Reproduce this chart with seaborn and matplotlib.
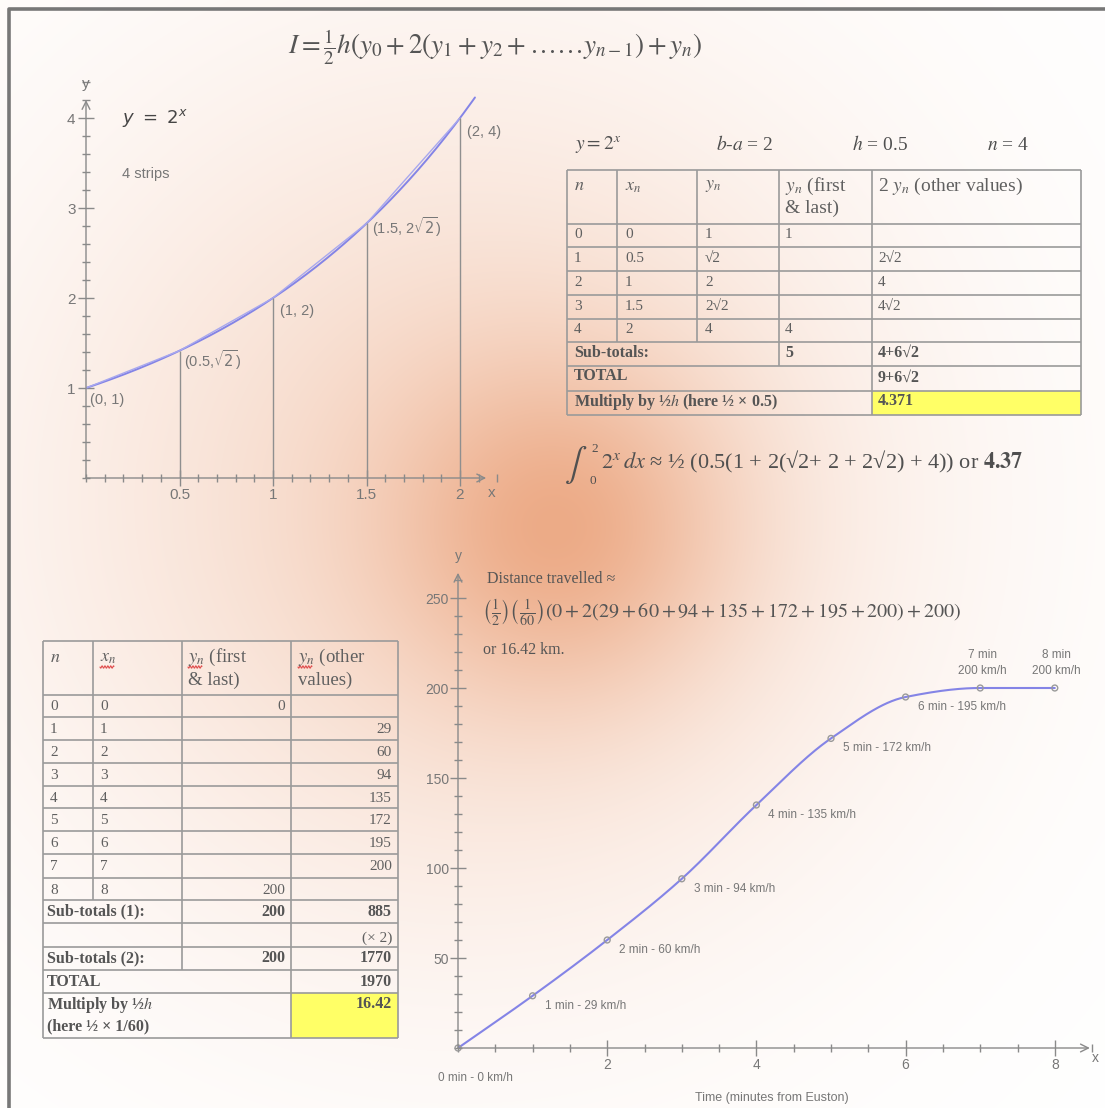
import numpy as np
import matplotlib
matplotlib.use("Agg")
import matplotlib.pyplot as plt
from matplotlib.ticker import MultipleLocator, FixedLocator
import seaborn as sns

# ---------------- data ----------------
# y = 2^x sampled at the strip edges
strip_x = [0, 0.5, 1, 1.5, 2]
strip_y = [1, 2 ** 0.5, 2, 2 * 2 ** 0.5, 4]
strip_labels = ["(0, 1)", r"(0.5,$\sqrt{2}$)", "(1, 2)", r"(1.5, 2$\sqrt{2}$)", "(2, 4)"]

# train speed after leaving Euston
minutes = [0, 1, 2, 3, 4, 5, 6, 7, 8]
speed_kmh = [0, 29, 60, 94, 135, 172, 195, 200, 200]

# worked table for y = 2^x
tab1_n = ["0", "1", "2", "3", "4"]
tab1_x = ["0", "0.5", "1", "1.5", "2"]
tab1_y = ["1", "√2", "2", "2√2", "4"]
tab1_first_last = ["1", "", "", "", "4"]
tab1_other = ["", "2√2", "4", "4√2", ""]
tab1_sub_fl = "5"
tab1_sub_other = "4+6√2"
tab1_total = "9+6√2"
tab1_result = "4.371"

W, H = 1105, 1108
sns.set_theme(style="white")
plt.rcParams["mathtext.fontset"] = "stix"
plt.rcParams["font.family"] = ["Liberation Sans", "DejaVu Sans"]

AX_COL = "#8a8a8a"
LBL_COL = "#777777"
CURVE = "#8484e6"
SERIF = ["Liberation Serif", "DejaVu Serif"]
TXT = "#606060"

fig = plt.figure(figsize=(W / 100, H / 100), dpi=100)

# ---------------- background glow and frame ----------------
bg = fig.add_axes([0, 0, 1, 1], zorder=0)
yy, xx = np.mgrid[0:H, 0:W]
glow = 0.46 * np.exp(-((xx - 565) ** 2 + (yy - 530) ** 2) / (2 * 120 ** 2))
glow += 0.36 * np.exp(-((xx - 460) ** 2 + (yy - 500) ** 2) / (2 * 300 ** 2))
glow = np.clip(glow, 0, 1)[..., None]
peach = np.array([232, 150, 105]) / 255.0
img = 1 - glow * (1 - peach)
bg.imshow(img, extent=(0, W, H, 0), aspect="auto", interpolation="bilinear")
bg.plot([9, 9, W], [H, 9, 9], color="#777777", lw=2.6, solid_capstyle="butt")
bg.set_xlim(0, W)
bg.set_ylim(H, 0)
bg.axis("off")


def style_axes(ax, xmax_arrow, ymax_arrow, major_len, minor_len):
    ax.set_facecolor("none")
    for s in ax.spines.values():
        s.set_visible(False)
    ax.tick_params(which="both", direction="inout", color=AX_COL, width=1,
                   left=True, bottom=True, labelcolor=LBL_COL, labelsize=10.5)
    ax.tick_params(which="major", length=major_len, pad=2)
    ax.tick_params(which="minor", length=minor_len)
    ax.annotate("", xy=(xmax_arrow, 0), xytext=(0, 0),
                arrowprops=dict(arrowstyle="->", color=AX_COL, lw=1, mutation_scale=14,
                                shrinkA=0, shrinkB=0))
    ax.annotate("", xy=(0, ymax_arrow), xytext=(0, 0),
                arrowprops=dict(arrowstyle="->", color=AX_COL, lw=1, mutation_scale=14,
                                shrinkA=0, shrinkB=0))
    ax.set_xlabel("")
    ax.set_ylabel("")


# ---------------- top chart: y = 2^x with 4 strips ----------------
ux, uy = 187.0, 90.0
ax1 = fig.add_axes([86 / W, 1 - 478 / H, 2.2 * ux / W, 4.4 * uy / H], zorder=1)
xs = np.linspace(0, 2.08, 300)
sns.lineplot(x=xs, y=2 ** xs, ax=ax1, color=CURVE, lw=1.4, sort=False, estimator=None)
sns.lineplot(x=strip_x, y=strip_y, ax=ax1, color="#a8a8ee", lw=1.0, sort=False, estimator=None)
ax1.vlines(strip_x[1:], 0, strip_y[1:], color="#8f8f8f", lw=1)
ax1.set_xlim(0, 2.2)
ax1.set_ylim(0, 4.4)
ax1.xaxis.set_major_locator(FixedLocator([0.5, 1, 1.5, 2]))
ax1.xaxis.set_minor_locator(MultipleLocator(0.1))
ax1.yaxis.set_major_locator(FixedLocator([1, 2, 3, 4]))
ax1.yaxis.set_minor_locator(MultipleLocator(0.2))
ax1.set_xticklabels(["0.5", "1", "1.5", "2"])
ax1.set_yticklabels(["1", "2", "3", "4"])
style_axes(ax1, 2.14, 4.2, 11, 6)
ax1.tick_params(labelsize=11)
offs = [(4, -12), (4, -9), (7, -13), (6, -4), (7, -14)]
for xv, yv, lab, (dx, dy) in zip(strip_x, strip_y, strip_labels, offs):
    ax1.annotate(lab, (xv, yv), xytext=(dx, dy), textcoords="offset pixels",
                 ha="left", va="center", fontsize=10.5, color=LBL_COL,
                 math_fontfamily="dejavusans")
ax1.annotate("x", (2.2, 0), xytext=(-6, -15), textcoords="offset pixels",
             ha="center", va="center", fontsize=11, color=LBL_COL, annotation_clip=False)
ax1.annotate("y", (0, 4.4), xytext=(0, -2), textcoords="offset pixels",
             ha="center", va="center", fontsize=11, color=LBL_COL, annotation_clip=False)

# ---------------- bottom chart: speed against time ----------------
def monotone_cubic(x, y, xs):
    x = np.asarray(x, float)
    y = np.asarray(y, float)
    h = np.diff(x)
    d = np.diff(y) / h
    m = np.zeros_like(y)
    m[0], m[-1] = d[0], d[-1]
    for k in range(1, len(x) - 1):
        if d[k - 1] * d[k] > 0:
            w1, w2 = 2 * h[k] + h[k - 1], h[k] + 2 * h[k - 1]
            m[k] = (w1 + w2) / (w1 / d[k - 1] + w2 / d[k])
    idx = np.clip(np.searchsorted(x, xs) - 1, 0, len(x) - 2)
    t = (xs - x[idx]) / h[idx]
    h00 = 2 * t ** 3 - 3 * t ** 2 + 1
    h10 = t ** 3 - 2 * t ** 2 + t
    h01 = -2 * t ** 3 + 3 * t ** 2
    h11 = t ** 3 - t ** 2
    return h00 * y[idx] + h10 * h[idx] * m[idx] + h01 * y[idx + 1] + h11 * h[idx] * m[idx + 1]


vx, vy = 74.6, 1.8
ax2 = fig.add_axes([458 / W, 1 - 1048 / H, 8.6 * vx / W, 268 * vy / H], zorder=1)
ts = np.linspace(minutes[0], minutes[-1], 400)
sns.lineplot(x=ts, y=monotone_cubic(minutes, speed_kmh, ts), ax=ax2, color=CURVE, lw=1.5,
             sort=False, estimator=None)
sns.scatterplot(x=minutes, y=speed_kmh, ax=ax2, s=18, facecolor="none",
                edgecolor="#9a9a9a", linewidth=1, zorder=3, clip_on=False)
ax2.set_xlim(0, 8.6)
ax2.set_ylim(0, 268)
ax2.xaxis.set_major_locator(FixedLocator([2, 4, 6, 8]))
ax2.xaxis.set_minor_locator(MultipleLocator(0.5))
ax2.yaxis.set_major_locator(FixedLocator([50, 100, 150, 200, 250]))
ax2.yaxis.set_minor_locator(MultipleLocator(10))
ax2.set_xticklabels(["2", "4", "6", "8"])
ax2.set_yticklabels(["50", "100", "150", "200", "250"])
style_axes(ax2, 8.47, 264, 11, 6)
ax2.tick_params(axis="x", which="major", pad=2)
ax2.tick_params(axis="y", which="major", pad=1)
ax2.tick_params(labelsize=10)
for m, v in zip(minutes, speed_kmh):
    if m == 0:
        ax2.annotate(f"{m} min - {v} km/h", (m, v), xytext=(17, -30), textcoords="offset pixels",
                     ha="center", va="center", fontsize=8.5, color=LBL_COL, annotation_clip=False)
    elif v == speed_kmh[-1] and m >= 7:
        ax2.annotate(f"{m} min\n{v} km/h", (m, v), xytext=(2, 25), textcoords="offset pixels",
                     ha="center", va="center", fontsize=8.5, color=LBL_COL, linespacing=1.35,
                     annotation_clip=False)
    else:
        ax2.annotate(f"{m} min - {v} km/h", (m, v), xytext=(12, -10), textcoords="offset pixels",
                     ha="left", va="center", fontsize=8.5, color=LBL_COL)
ax2.annotate("x", (8.6, 0), xytext=(-4, -10), textcoords="offset pixels",
             ha="center", va="center", fontsize=10, color=LBL_COL, annotation_clip=False)
ax2.annotate("y", (0, 268), xytext=(0, 10), textcoords="offset pixels",
             ha="center", va="center", fontsize=10, color=LBL_COL, annotation_clip=False)
ax2.annotate("Time (minutes from Euston)", (4.2, 0), xytext=(0, -50), textcoords="offset pixels",
             ha="center", va="center", fontsize=9, color=LBL_COL, annotation_clip=False)

# ---------------- overlay: formulas and tables (pixel coordinates) ----------------
ov = fig.add_axes([0, 0, 1, 1], zorder=2)
ov.set_facecolor("none")
ov.set_xlim(0, W)
ov.set_ylim(H, 0)
ov.axis("off")

ov.text(495, 47, r"$I = \frac{1}{2}h(y_0 + 2(y_1 + y_2 + \ldots\ldots y_{n-1}) + y_n)$",
        ha="center", va="center", fontsize=19.5, color="#555555")

ov.text(122, 118, r"$y\ =\ 2^{x}$", ha="left", va="center", fontsize=13, color="#454545",
        math_fontfamily="dejavusans")
ov.text(122, 174, "4 strips", ha="left", va="center", fontsize=10.5, color=LBL_COL)

# heading above the first table
h_step = strip_x[1] - strip_x[0]
n_strips = len(strip_x) - 1
ov.text(575, 145, r"$y = 2^{x}$", ha="left", va="center", fontsize=14, color="#505050")
ov.text(716, 145, r"$b$-$a$ = " + f"{strip_x[-1] - strip_x[0]:g}", ha="left", va="center",
        fontsize=14, color="#505050", family=SERIF)
ov.text(852, 145, r"$h$ = " + f"{h_step:g}", ha="left", va="center", fontsize=14,
        color="#505050", family=SERIF)
ov.text(987, 145, r"$n$ = " + f"{n_strips}", ha="left", va="center", fontsize=14,
        color="#505050", family=SERIF)

LINE = "#9a9a9a"


def hline(x0, x1, y):
    ov.plot([x0, x1], [y, y], color=LINE, lw=1.2, solid_capstyle="butt")


def vline(x, y0, y1):
    ov.plot([x, x], [y0, y1], color=LINE, lw=1.2, solid_capstyle="butt")


def put(x, y, s, ha="left", bold=False, size=11, va="center"):
    ov.text(x, y, s, ha=ha, va=va, fontsize=size, family=SERIF,
            fontweight="bold" if bold else "normal",
            color="#555555" if bold else TXT)


# table 1
c1 = [567, 617, 697, 779, 872, 1081]
r1 = [170, 224, 247, 271, 295, 319, 342, 366, 391, 415]
ov.add_patch(plt.Rectangle((c1[4], r1[8]), c1[5] - c1[4], r1[9] - r1[8],
                           facecolor="#ffff66", edgecolor="none"))
for y in r1:
    hline(c1[0], c1[5], y)
vline(c1[0], r1[0], r1[-1])
vline(c1[5], r1[0], r1[-1])
vline(c1[1], r1[0], r1[6])
vline(c1[2], r1[0], r1[6])
vline(c1[3], r1[0], r1[7])
vline(c1[4], r1[0], r1[-1])
put(574, 186, r"$n$", size=13)
put(625, 186, r"$x_n$", size=13)
put(705, 186, r"$y_n$", size=13)
put(785, 186, r"$y_n$ (first", size=14)
put(785, 208, "& last)", size=14)
put(878, 186, r"2 $y_n$ (other values)", size=14)
for i in range(len(tab1_n)):
    yc = (r1[i + 1] + r1[i + 2]) / 2 - 1
    put(574, yc, tab1_n[i])
    put(625, yc, tab1_x[i])
    put(705, yc, tab1_y[i])
    put(785, yc, tab1_first_last[i])
    put(878, yc, tab1_other[i])
put(574, (r1[6] + r1[7]) / 2 - 1, "Sub-totals:", bold=True, size=11.5)
put(785, (r1[6] + r1[7]) / 2 - 1, tab1_sub_fl, bold=True, size=11.5)
put(878, (r1[6] + r1[7]) / 2 - 1, tab1_sub_other, bold=True, size=11.5)
put(574, (r1[7] + r1[8]) / 2 - 2, "TOTAL", bold=True, size=11.5)
put(878, (r1[7] + r1[8]) / 2 - 1, tab1_total, bold=True, size=11.5)
put(574, (r1[8] + r1[9]) / 2 - 1, r"Multiply by ½$h$ (here ½ × 0.5)", bold=True, size=11.5)
put(878, (r1[8] + r1[9]) / 2 - 2, tab1_result, bold=True, size=11.5)

# trapezium estimate written out under the table
ov.text(564, 465, r"$\int$", ha="left", va="center", fontsize=24, color="#505050")
ov.text(591, 449, "2", ha="left", va="center", fontsize=9.5, family=SERIF, color="#505050")
ov.text(590, 481, "0", ha="left", va="center", fontsize=9.5, family=SERIF, color="#505050")
ov.text(601, 462,
        r"$2^{x}\,dx$ ≈ ½ (0.5(1 + 2(√2+ 2 + 2√2) + 4)) or $\mathbf{4.37}$",
        ha="left", va="center", fontsize=16, family=SERIF, color="#505050")

# table 2: trapezium rule for the train
others = speed_kmh[1:-1]
sum_fl = speed_kmh[0] + speed_kmh[-1]
sum_other = sum(others)
total = sum_fl + 2 * sum_other
dist = total / 2 / 60

c2 = [43, 93, 182, 291, 398]
r2 = [641, 695, 717, 740, 763, 786, 808, 831, 854, 878, 900, 923, 947, 970, 993, 1038]
ov.add_patch(plt.Rectangle((c2[3], r2[14]), c2[4] - c2[3], r2[15] - r2[14],
                           facecolor="#ffff66", edgecolor="none"))
for y in r2:
    hline(c2[0], c2[4], y)
vline(c2[0], r2[0], r2[-1])
vline(c2[4], r2[0], r2[-1])
vline(c2[1], r2[0], r2[10])
vline(c2[2], r2[0], r2[13])
vline(c2[3], r2[0], r2[-1])
put(50, 657, r"$n$", size=13)
put(100, 657, r"$x_n$", size=13)
put(188, 657, r"$y_n$ (first", size=13.5)
put(188, 680, "& last)", size=13.5)
put(298, 657, r"$y_n$ (other", size=13.5)
put(298, 680, "values)", size=13.5)
# spelling squiggles under the subscripted headers
wx = np.linspace(0, 14, 30)
for x0 in (100, 188, 298):
    ov.plot(x0 + wx, 667 + 1.2 * np.sin(wx * 2.2), color="#e05050", lw=0.8)

for i, (m, v) in enumerate(zip(minutes, speed_kmh)):
    yc = (r2[i + 1] + r2[i + 2]) / 2 + 1
    put(50, yc, str(m))
    put(100, yc, str(m))
    if i == 0 or i == len(minutes) - 1:
        put(285, yc, str(v), ha="right")
    else:
        put(392, yc, str(v), ha="right")
put(47, (r2[10] + r2[11]) / 2, "Sub-totals (1):", bold=True, size=11.5)
put(285, (r2[10] + r2[11]) / 2, str(sum_fl), ha="right", bold=True, size=11.5)
put(392, (r2[10] + r2[11]) / 2, str(sum_other), ha="right", bold=True, size=11.5)
put(392, (r2[11] + r2[12]) / 2 + 3, "(× 2)", ha="right")
put(47, (r2[12] + r2[13]) / 2, "Sub-totals (2):", bold=True, size=11.5)
put(285, (r2[12] + r2[13]) / 2, str(sum_fl), ha="right", bold=True, size=11.5)
put(392, (r2[12] + r2[13]) / 2, str(2 * sum_other), ha="right", bold=True, size=11.5)
put(47, (r2[13] + r2[14]) / 2, "TOTAL", bold=True, size=11.5)
put(392, (r2[13] + r2[14]) / 2, str(total), ha="right", bold=True, size=11.5)
put(47, 1005, r"Multiply by ½$h$", bold=True, size=11.5)
put(47, 1026, "(here ½ × 1/60)", bold=True, size=11.5)
put(392, 1004, f"{dist:.2f}", ha="right", bold=True, size=11.5)

# working shown beside the speed chart
ov.text(487, 579, "Distance travelled ≈", ha="left", va="center", fontsize=11.5,
        family=SERIF, color="#555555")
sum_terms = " + ".join(str(v) for v in others)
ov.text(482, 613,
        r"$\left(\frac{1}{2}\right)\left(\frac{1}{60}\right)(" + f"{speed_kmh[0]} + 2({sum_terms}) + {speed_kmh[-1]})$",
        ha="left", va="center", fontsize=14.5, color="#555555")
ov.text(483, 650, f"or {dist:.2f} km.", ha="left", va="center", fontsize=11.5,
        family=SERIF, color="#555555")

fig.savefig("out.png", dpi=100)
